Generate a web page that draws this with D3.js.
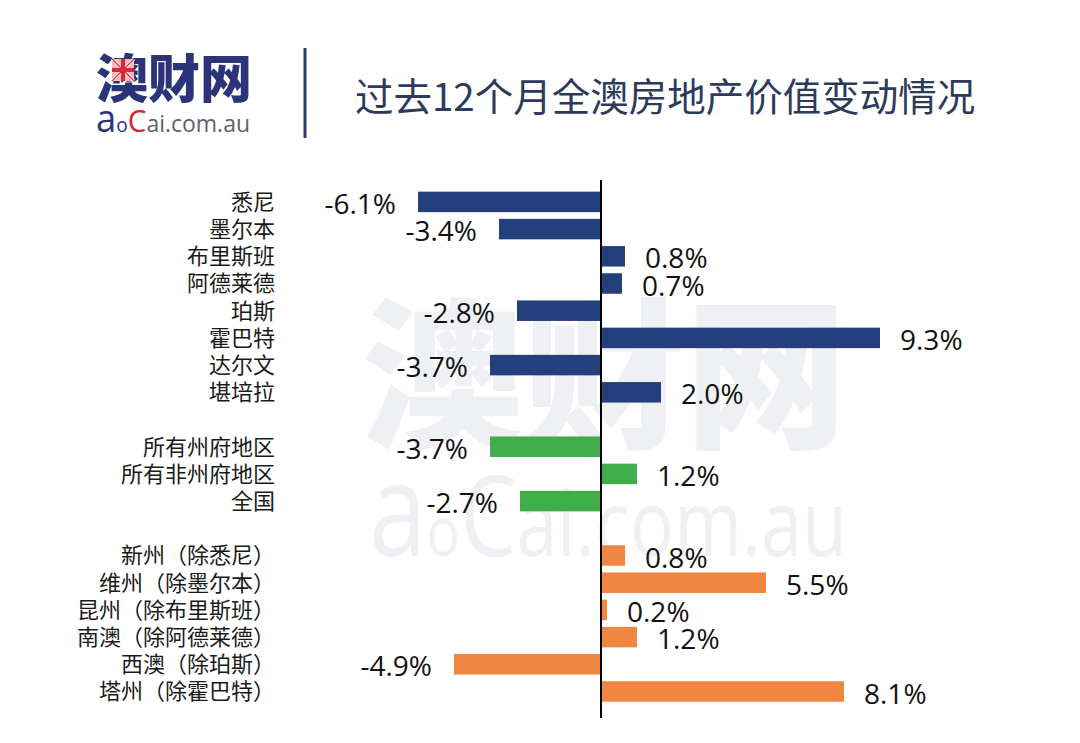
<!DOCTYPE html>
<html>
<head>
<meta charset="utf-8">
<script src="https://cdn.jsdelivr.net/npm/d3@7"></script>
<style>
  html, body { margin: 0; padding: 0; background: #ffffff; }
  svg { display: block; }
</style>
</head>
<body>
<svg id="chart" width="1080" height="743"></svg>
<script>
// ---- data ----
const cityCategories = ["悉尼", "墨尔本", "布里斯班", "阿德莱德", "珀斯", "霍巴特", "达尔文", "堪培拉"];
const cityValues = [-6.1, -3.4, 0.8, 0.7, -2.8, 9.3, -3.7, 2.0];

const aggCategories = ["所有州府地区", "所有非州府地区", "全国"];
const aggValues = [-3.7, 1.2, -2.7];

const regionCategories = ["新州（除悉尼）", "维州（除墨尔本）", "昆州（除布里斯班）", "南澳（除阿德莱德）", "西澳（除珀斯）", "塔州（除霍巴特）"];
const regionValues = [0.8, 5.5, 0.2, 1.2, -4.9, 8.1];

const groupColors = ["#233f7c", "#41ad4a", "#ef8641"];
const titleText = "过去12个月全澳房地产价值变动情况";

// ---- build rows (with blank separator rows between groups) ----
const groups = [
  { cats: cityCategories, vals: cityValues },
  { cats: aggCategories, vals: aggValues },
  { cats: regionCategories, vals: regionValues }
];
const rows = [];
const domain = [];
groups.forEach((g, gi) => {
  if (gi > 0) domain.push("__gap" + gi);
  g.cats.forEach((c, i) => {
    rows.push({ cat: c, val: g.vals[i], group: gi });
    domain.push(c);
  });
});

const svg = d3.select("#chart");

// ---- watermark ----
const wm = svg.append("g").attr("fill", "#eff0f4");
wm.append("text")
  .attr("x", 361).attr("y", 436)
  .attr("font-family", "'Noto Sans CJK SC', sans-serif")
  .attr("font-weight", 900)
  .attr("font-size", 162)
  .attr("textLength", 486)
  .text("澳财网");
const wm2 = wm.append("text")
  .attr("x", 369).attr("y", 556)
  .attr("font-family", "'Open Sans', sans-serif")
  .attr("textLength", 478)
  .attr("lengthAdjust", "spacingAndGlyphs");
wm2.append("tspan").attr("font-size", 130).text("a");
wm2.append("tspan").attr("font-size", 70).text("o");
wm2.append("tspan").attr("font-size", 112).text("C");
wm2.append("tspan").attr("font-size", 92).text("ai.com.au");

// ---- header: logo ----
const logo = svg.append("g");
logo.append("text")
  .attr("x", 96).attr("y", 98)
  .attr("font-family", "'Noto Sans CJK SC', sans-serif")
  .attr("font-weight", 900)
  .attr("font-size", 52)
  .attr("fill", "#2b3479")
  .attr("textLength", 156)
  .text("澳财网");
// small flag square on 澳
const fx = 112, fy = 59, fs = 22;
logo.append("rect").attr("x", fx).attr("y", fy).attr("width", fs).attr("height", fs).attr("fill", "#f0b8c0");
logo.append("line").attr("x1", fx).attr("y1", fy).attr("x2", fx + fs).attr("y2", fy + fs).attr("stroke", "#ffffff").attr("stroke-width", 3);
logo.append("line").attr("x1", fx + fs).attr("y1", fy).attr("x2", fx).attr("y2", fy + fs).attr("stroke", "#ffffff").attr("stroke-width", 3);
logo.append("line").attr("x1", fx).attr("y1", fy).attr("x2", fx + fs).attr("y2", fy + fs).attr("stroke", "#d8283a").attr("stroke-width", 1.2);
logo.append("line").attr("x1", fx + fs).attr("y1", fy).attr("x2", fx).attr("y2", fy + fs).attr("stroke", "#d8283a").attr("stroke-width", 1.2);
logo.append("line").attr("x1", fx + fs / 2).attr("y1", fy).attr("x2", fx + fs / 2).attr("y2", fy + fs).attr("stroke", "#d8283a").attr("stroke-width", 4);
logo.append("line").attr("x1", fx).attr("y1", fy + fs / 2).attr("x2", fx + fs).attr("y2", fy + fs / 2).attr("stroke", "#d8283a").attr("stroke-width", 4);

const sub = logo.append("text")
  .attr("x", 96).attr("y", 132)
  .attr("font-family", "'Open Sans', sans-serif")
  .attr("textLength", 154)
  .attr("lengthAdjust", "spacingAndGlyphs");
sub.append("tspan").attr("font-size", 38).attr("fill", "#2b3479").text("a");
sub.append("tspan").attr("font-size", 20).attr("fill", "#2b3479").text("o");
sub.append("tspan").attr("font-size", 31).attr("fill", "#d8262c").text("C");
sub.append("tspan").attr("font-size", 24).attr("fill", "#5d6275").text("ai.com.au");

// separator
svg.append("line")
  .attr("x1", 305).attr("x2", 305).attr("y1", 48).attr("y2", 138)
  .attr("stroke", "#2b3a66").attr("stroke-width", 3);

// title
svg.append("text")
  .attr("x", 355).attr("y", 111)
  .attr("font-family", "'Noto Sans CJK SC', sans-serif")
  .attr("font-size", 38.5)
  .attr("fill", "#2e3a5c")
  .text(titleText);

// ---- scales ----
const x = d3.scaleLinear().domain([-7, 10]).range([391, 901]);
const y = d3.scaleBand()
  .domain(domain)
  .range([188.3, 705.1])
  .paddingInner(0.246)
  .paddingOuter(0.123);

const chart = svg.append("g");

// bars
chart.selectAll("rect.bar")
  .data(rows)
  .join("rect")
  .attr("class", "bar")
  .attr("x", d => x(Math.min(0, d.val)))
  .attr("width", d => Math.abs(x(d.val) - x(0)))
  .attr("y", d => y(d.cat))
  .attr("height", y.bandwidth())
  .attr("fill", d => groupColors[d.group]);

// zero axis line
chart.append("line")
  .attr("x1", x(0)).attr("x2", x(0))
  .attr("y1", 180).attr("y2", 718)
  .attr("stroke", "#000000").attr("stroke-width", 2);

// category labels
chart.selectAll("text.cat")
  .data(rows)
  .join("text")
  .attr("class", "cat")
  .attr("x", 275)
  .attr("y", d => y(d.cat) + y.bandwidth() / 2)
  .attr("dy", "0.36em")
  .attr("text-anchor", "end")
  .attr("font-family", "'Noto Sans CJK SC', sans-serif")
  .attr("font-size", 22)
  .attr("fill", "#1a1a1a")
  .text(d => d.cat);

// value labels
chart.selectAll("text.val")
  .data(rows)
  .join("text")
  .attr("class", "val")
  .attr("x", d => d.val < 0 ? x(d.val) - 22 : x(d.val) + 20)
  .attr("y", d => y(d.cat) + y.bandwidth() / 2 + 2)
  .attr("dy", "0.36em")
  .attr("text-anchor", d => d.val < 0 ? "end" : "start")
  .attr("font-family", "'Open Sans', sans-serif")
  .attr("font-size", 28)
  .attr("fill", "#111111")
  .text(d => d.val.toFixed(1) + "%");
</script>
</body>
</html>
